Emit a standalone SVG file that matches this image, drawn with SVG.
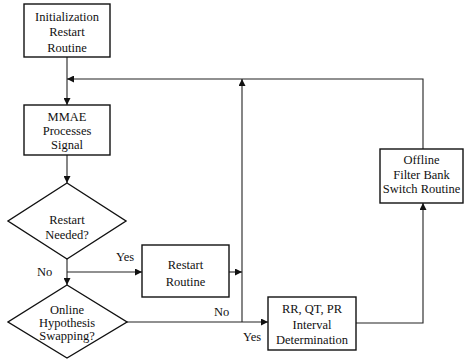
<svg xmlns="http://www.w3.org/2000/svg" width="465" height="364" viewBox="0 0 465 364">
<style>
.box{fill:#fff;stroke:#111;stroke-width:1.4}
.t{font-family:"Liberation Serif","Times New Roman",serif;font-size:12.5px;fill:#111;text-anchor:middle}
.l{font-family:"Liberation Serif","Times New Roman",serif;font-size:12.5px;fill:#111}
.c{fill:none;stroke:#222;stroke-width:1.1}
</style>
<defs>
<marker id="ah" viewBox="0 0 10 10" refX="10" refY="5" markerWidth="7" markerHeight="7" orient="auto" markerUnits="userSpaceOnUse">
<path d="M0,0 L10,5 L0,10 z" fill="#111"/>
</marker>
</defs>
<g id="connectors">
<path class="c" d="M67,57 V105" marker-end="url(#ah)"/>
<path class="c" d="M423,149 V79 H67" marker-end="url(#ah)"/>
<path class="c" d="M67,155 V183" marker-end="url(#ah)"/>
<path class="c" d="M67,259 V285" marker-end="url(#ah)"/>
<path class="c" d="M67,272 H142" marker-end="url(#ah)"/>
<path class="c" d="M229,272 H242" marker-end="url(#ah)"/>
<path class="c" d="M127,322 H268" marker-end="url(#ah)"/>
<path class="c" d="M242,322 V79" marker-end="url(#ah)"/>
<path class="c" d="M356,323 H423 V203" marker-end="url(#ah)"/>
<text class="l" x="116" y="261">Yes</text>
<text class="l" x="37" y="276">No</text>
<text class="l" x="214" y="316">No</text>
<text class="l" x="243" y="341">Yes</text>
</g>
<g id="init">
<rect class="box" x="24" y="4" width="86" height="53"/>
<text class="t" x="67" y="21">Initialization</text>
<text class="t" x="67" y="36">Restart</text>
<text class="t" x="67" y="52">Routine</text>
</g>
<g id="mmae">
<rect class="box" x="24" y="105" width="86" height="50"/>
<text class="t" x="67" y="121">MMAE</text>
<text class="t" x="67" y="135">Processes</text>
<text class="t" x="67" y="149">Signal</text>
</g>
<g id="restart-needed">
<polygon class="box" points="67,183 126,221 67,259 8,221"/>
<text class="t" x="67" y="224">Restart</text>
<text class="t" x="67" y="239">Needed?</text>
</g>
<g id="restart-routine">
<rect class="box" x="142" y="245" width="87" height="52"/>
<text class="t" x="185.5" y="269">Restart</text>
<text class="t" x="185.5" y="286">Routine</text>
</g>
<g id="online">
<polygon class="box" points="67,285 127,322 67,358 8,322"/>
<text class="t" x="67" y="314">Online</text>
<text class="t" x="67" y="327">Hypothesis</text>
<text class="t" x="67" y="340">Swapping?</text>
</g>
<g id="interval">
<rect class="box" x="268" y="297" width="88" height="53"/>
<text class="t" x="312" y="313">RR, QT, PR</text>
<text class="t" x="312" y="329">Interval</text>
<text class="t" x="312" y="344">Determination</text>
</g>
<g id="offline">
<rect class="box" x="380" y="149" width="83" height="54"/>
<text class="t" x="421.5" y="164">Offline</text>
<text class="t" x="421.5" y="179">Filter Bank</text>
<text class="t" x="421.5" y="193">Switch Routine</text>
</g>
</svg>
